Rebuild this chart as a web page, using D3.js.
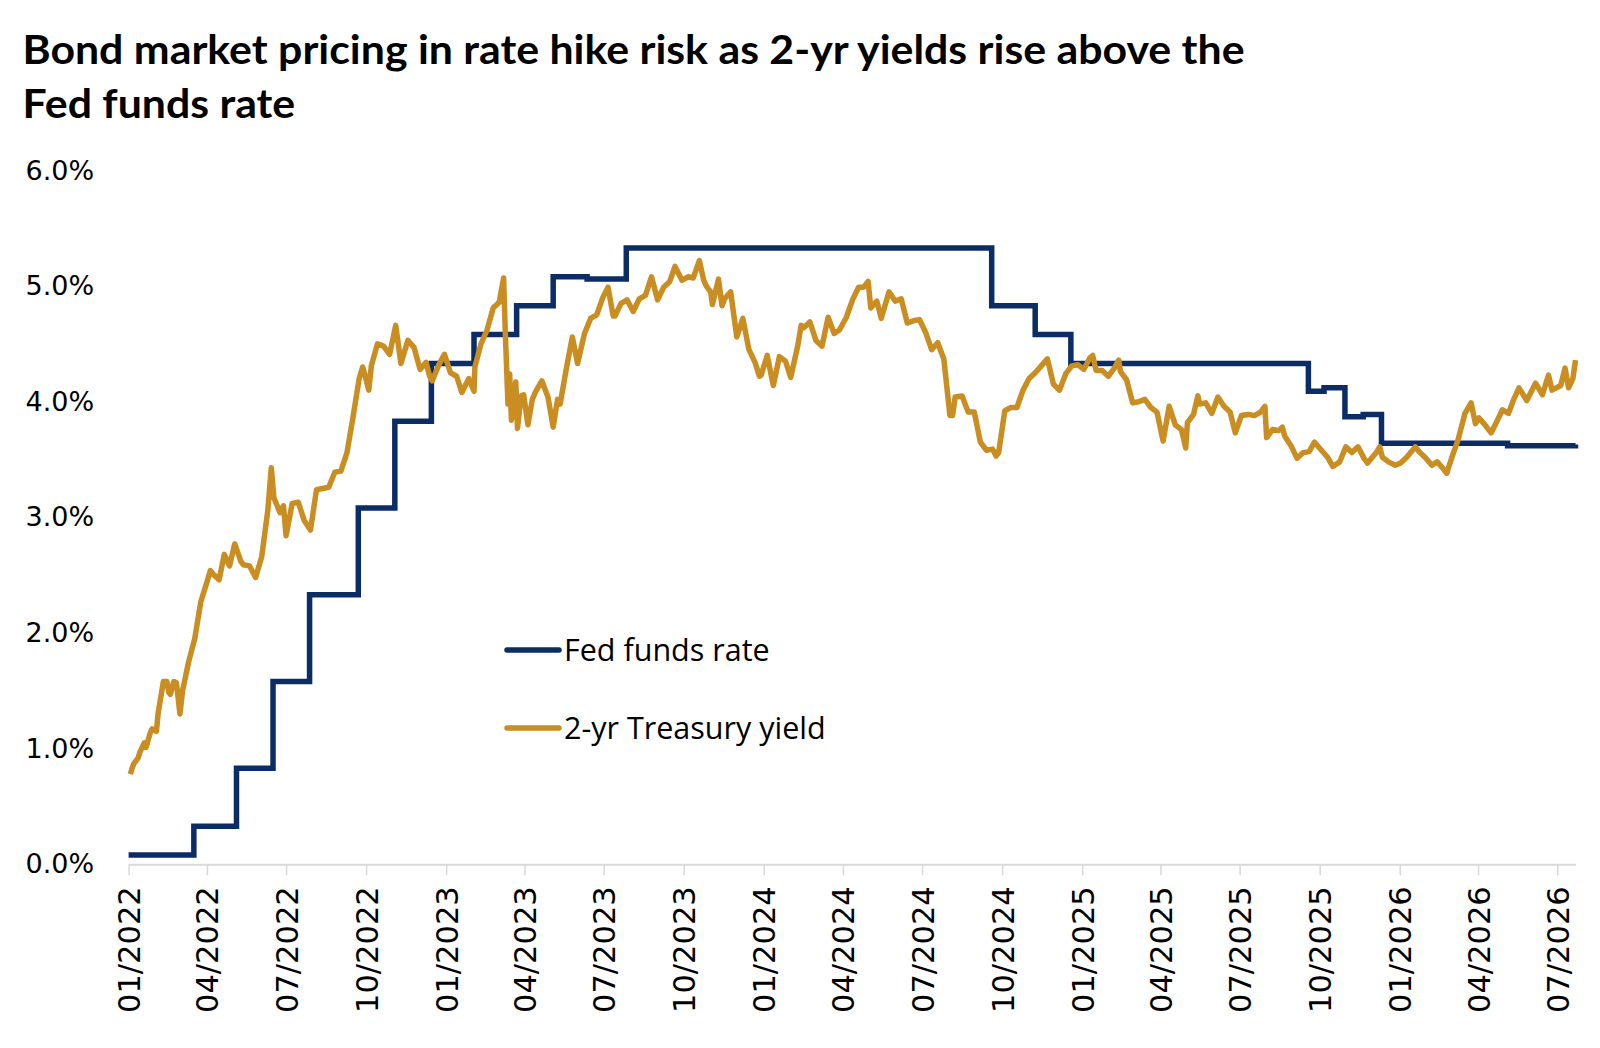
<!DOCTYPE html>
<html>
<head>
<meta charset="utf-8">
<script src="https://cdn.jsdelivr.net/npm/d3@7"></script>
<style>
  body { margin: 0; background: #ffffff; }
</style>
</head>
<body>
<div id="chart"></div>
<script>
// ---- data ----
var titleLines = ["Bond market pricing in rate hike risk as 2-yr yields rise above the", "Fed funds rate"];
var seriesNames = ["Fed funds rate", "2-yr Treasury yield"];
var yTicks = [0, 1, 2, 3, 4, 5, 6];
var xStart = "2022-01-01";
var xEnd = "2026-07-22";

// effective fed funds rate, value holds from each date until the next one
var fedDates = ["2022-01-01", "2022-03-17", "2022-05-05", "2022-06-16", "2022-07-28", "2022-09-22",
  "2022-11-03", "2022-12-15", "2023-02-02", "2023-03-23", "2023-05-04", "2023-06-12", "2023-07-27",
  "2024-09-19", "2024-11-08", "2024-12-19", "2025-09-18", "2025-10-06", "2025-10-30", "2025-11-20",
  "2025-12-11", "2026-05-05", "2026-07-22"];
var fedRates = [0.08, 0.33, 0.83, 1.58, 2.33, 3.08, 3.83, 4.33, 4.58, 4.83, 5.08, 5.06, 5.33,
  4.83, 4.58, 4.33, 4.09, 4.12, 3.87, 3.89, 3.64, 3.62, 3.63];

// 2-yr Treasury yield (%)
var yield2022 = [["2022-01-03",0.78],["2022-01-05",0.83],["2022-01-07",0.87],["2022-01-12",0.92],["2022-01-14",0.97],
  ["2022-01-19",1.05],["2022-01-21",1.01],["2022-01-26",1.14],["2022-01-28",1.17],["2022-02-02",1.15],["2022-02-04",1.31],
  ["2022-02-10",1.58],["2022-02-14",1.58],["2022-02-16",1.49],["2022-02-18",1.47],["2022-02-22",1.58],["2022-02-25",1.57],
  ["2022-03-01",1.30],["2022-03-04",1.50],["2022-03-11",1.75],["2022-03-18",1.95],["2022-03-25",2.27],["2022-04-01",2.44],
  ["2022-04-05",2.54],["2022-04-08",2.51],["2022-04-15",2.46],["2022-04-21",2.68],["2022-04-27",2.58],["2022-05-03",2.77],
  ["2022-05-10",2.62],["2022-05-13",2.59],["2022-05-20",2.58],["2022-05-27",2.48],["2022-06-03",2.66],["2022-06-10",3.06],
  ["2022-06-14",3.43],["2022-06-17",3.17],["2022-06-24",3.04],["2022-06-28",3.10],["2022-07-01",2.84],["2022-07-08",3.12],
  ["2022-07-15",3.13],["2022-07-22",2.97],["2022-07-29",2.89],["2022-08-05",3.24],["2022-08-12",3.25],["2022-08-19",3.26],
  ["2022-08-26",3.39],["2022-09-02",3.40],["2022-09-09",3.56],["2022-09-16",3.87],["2022-09-23",4.20],["2022-09-27",4.30],
  ["2022-09-30",4.22],["2022-10-04",4.10],["2022-10-07",4.31],["2022-10-14",4.50],["2022-10-21",4.48],["2022-10-28",4.41],
  ["2022-11-04",4.66],["2022-11-10",4.33],["2022-11-18",4.53],["2022-11-25",4.47],["2022-12-02",4.28],["2022-12-09",4.34],
  ["2022-12-13",4.22],["2022-12-16",4.18],["2022-12-23",4.31],["2022-12-30",4.41]];
var yield2023 = [["2023-01-06",4.25],["2023-01-13",4.22],["2023-01-19",4.08],["2023-01-27",4.20],["2023-02-02",4.09],
  ["2023-02-03",4.30],["2023-02-10",4.50],["2023-02-17",4.62],["2023-02-24",4.81],["2023-03-03",4.86],["2023-03-08",5.07],
  ["2023-03-10",4.59],["2023-03-13",3.98],["2023-03-15",4.24],["2023-03-17",3.84],["2023-03-22",4.17],["2023-03-24",3.77],
  ["2023-03-28",4.05],["2023-03-31",4.06],["2023-04-05",3.80],["2023-04-10",4.02],["2023-04-14",4.09],["2023-04-21",4.18],
  ["2023-04-28",4.04],["2023-05-04",3.78],["2023-05-09",4.02],["2023-05-12",3.98],["2023-05-19",4.28],["2023-05-26",4.56],
  ["2023-06-01",4.33],["2023-06-09",4.59],["2023-06-16",4.72],["2023-06-23",4.75],["2023-06-30",4.90],["2023-07-06",4.99],
  ["2023-07-12",4.74],["2023-07-14",4.74],["2023-07-21",4.85],["2023-07-28",4.88],["2023-08-04",4.78],["2023-08-11",4.89],
  ["2023-08-18",4.92],["2023-08-25",5.08],["2023-09-01",4.88],["2023-09-08",4.99],["2023-09-15",5.04],["2023-09-21",5.17],
  ["2023-09-29",5.05],["2023-10-06",5.08],["2023-10-12",5.07],["2023-10-19",5.22],["2023-10-24",5.05],["2023-10-27",5.00],
  ["2023-11-01",4.95],["2023-11-03",4.84],["2023-11-10",5.06],["2023-11-14",4.83],["2023-11-17",4.89],["2023-11-24",4.95],
  ["2023-12-01",4.56],["2023-12-08",4.72],["2023-12-15",4.45],["2023-12-22",4.34],["2023-12-27",4.22],["2023-12-29",4.23]];
var yield2024 = [["2024-01-05",4.40],["2024-01-12",4.14],["2024-01-19",4.39],["2024-01-26",4.35],["2024-02-01",4.21],
  ["2024-02-09",4.48],["2024-02-13",4.66],["2024-02-16",4.64],["2024-02-23",4.69],["2024-03-01",4.53],["2024-03-08",4.48],
  ["2024-03-15",4.73],["2024-03-22",4.59],["2024-03-28",4.62],["2024-04-05",4.73],["2024-04-12",4.88],["2024-04-19",4.99],
  ["2024-04-25",4.99],["2024-04-30",5.04],["2024-05-03",4.81],["2024-05-10",4.87],["2024-05-15",4.72],["2024-05-24",4.95],
  ["2024-05-31",4.87],["2024-06-07",4.89],["2024-06-14",4.68],["2024-06-21",4.70],["2024-06-28",4.71],["2024-07-05",4.60],
  ["2024-07-12",4.45],["2024-07-19",4.51],["2024-07-26",4.37],["2024-08-02",3.88],["2024-08-05",3.88],["2024-08-08",4.04],
  ["2024-08-16",4.05],["2024-08-23",3.91],["2024-08-30",3.91],["2024-09-06",3.65],["2024-09-13",3.58],["2024-09-20",3.59],
  ["2024-09-24",3.53],["2024-09-27",3.56],["2024-10-04",3.92],["2024-10-11",3.95],["2024-10-18",3.95],["2024-10-25",4.10],
  ["2024-11-01",4.20],["2024-11-08",4.25],["2024-11-15",4.31],["2024-11-22",4.37],["2024-11-29",4.15],["2024-12-06",4.10],
  ["2024-12-13",4.24],["2024-12-20",4.31],["2024-12-27",4.32]];
var yield2025 = [["2025-01-03",4.28],["2025-01-10",4.38],["2025-01-13",4.40],["2025-01-17",4.27],["2025-01-24",4.27],
  ["2025-01-31",4.22],["2025-02-07",4.29],["2025-02-12",4.36],["2025-02-14",4.26],["2025-02-21",4.19],["2025-02-28",3.99],
  ["2025-03-07",4.00],["2025-03-14",4.02],["2025-03-21",3.95],["2025-03-28",3.91],["2025-04-04",3.66],["2025-04-11",3.96],
  ["2025-04-18",3.80],["2025-04-25",3.76],["2025-04-30",3.60],["2025-05-02",3.82],["2025-05-09",3.89],["2025-05-14",4.05],
  ["2025-05-16",3.98],["2025-05-23",3.99],["2025-05-30",3.90],["2025-06-06",4.04],["2025-06-13",3.96],["2025-06-20",3.91],
  ["2025-06-26",3.73],["2025-07-03",3.88],["2025-07-11",3.89],["2025-07-18",3.88],["2025-07-25",3.91],["2025-07-30",3.96],
  ["2025-08-01",3.69],["2025-08-08",3.76],["2025-08-15",3.75],["2025-08-19",3.78],["2025-08-22",3.70],["2025-08-29",3.62],
  ["2025-09-05",3.51],["2025-09-12",3.56],["2025-09-19",3.57],["2025-09-25",3.65],["2025-10-03",3.58],["2025-10-10",3.52],
  ["2025-10-16",3.44],["2025-10-24",3.48],["2025-10-31",3.61],["2025-11-07",3.56],["2025-11-14",3.61],["2025-11-21",3.51],
  ["2025-11-25",3.47],["2025-12-05",3.56],["2025-12-09",3.61],["2025-12-12",3.52],["2025-12-19",3.48],["2025-12-27",3.45]];
var yield2026 = [["2026-01-02",3.47],["2026-01-09",3.52],["2026-01-19",3.61],["2026-01-23",3.57],["2026-01-30",3.52],
  ["2026-02-07",3.45],["2026-02-13",3.48],["2026-02-20",3.42],["2026-02-24",3.38],["2026-03-02",3.52],["2026-03-09",3.67],
  ["2026-03-17",3.90],["2026-03-24",3.99],["2026-03-29",3.81],["2026-04-02",3.86],["2026-04-09",3.80],["2026-04-16",3.73],
  ["2026-04-22",3.82],["2026-04-29",3.93],["2026-05-06",3.90],["2026-05-12",4.02],["2026-05-18",4.12],["2026-05-27",4.01],
  ["2026-06-06",4.16],["2026-06-14",4.06],["2026-06-21",4.23],["2026-06-25",4.10],["2026-07-05",4.14],["2026-07-10",4.29],
  ["2026-07-14",4.12],["2026-07-19",4.20],["2026-07-22",4.36]];

var navy = "#0c2c66";
var gold = "#c98d22";

// ---- layout ----
var svgWidth = 1600;
var svgHeight = 1048;
var chartMargin = { top: 170.4, right: 24.5, bottom: 183.7, left: 128.6 };
var width = svgWidth - chartMargin.left - chartMargin.right;
var height = svgHeight - chartMargin.top - chartMargin.bottom;

var svg = d3.select("#chart")
  .append("svg")
  .attr("width", svgWidth)
  .attr("height", svgHeight)
  .style("background", "#ffffff");

var parseDate = d3.timeParse("%Y-%m-%d");

// title
var titleGroup = svg.append("g");
var titleText = titleGroup.selectAll("text")
  .data(titleLines)
  .enter()
  .append("text")
  .attr("x", 22.5)
  .attr("y", (d, i) => 64 + i * 54)
  .attr("font-family", "Lato, 'Open Sans', sans-serif")
  .attr("font-weight", 700)
  .attr("font-size", 40)
  .attr("fill", "#000000")
  .text(d => d);

// squeeze title to the reference width
var firstLen = titleText.nodes()[0].getComputedTextLength();
var squeeze = 1222 / firstLen;
titleText.each(function() {
  var len = this.getComputedTextLength();
  d3.select(this).attr("textLength", len * squeeze).attr("lengthAdjust", "spacingAndGlyphs");
});

var chartGroup = svg.append("g")
  .attr("transform", `translate(${chartMargin.left}, ${chartMargin.top})`);

var xScale = d3.scaleTime()
  .domain([parseDate(xStart), parseDate(xEnd)])
  .range([0, width]);

var yScale = d3.scaleLinear()
  .domain([0, 6])
  .range([height, 0]);

// x axis
var bottomAxis = d3.axisBottom(xScale)
  .ticks(d3.timeMonth.every(3))
  .tickFormat(d3.timeFormat("%m/%Y"))
  .tickSizeInner(11)
  .tickSizeOuter(0);

var xAxis = chartGroup.append("g")
  .attr("transform", `translate(0, ${height})`)
  .call(bottomAxis);

xAxis.select(".domain").attr("stroke", "#d9d9d9").attr("stroke-width", 2);
xAxis.selectAll(".tick line").attr("stroke", "#d9d9d9").attr("stroke-width", 1.5);
xAxis.selectAll(".tick text")
  .attr("transform", "rotate(-90)")
  .attr("x", -22)
  .attr("y", 0)
  .attr("dy", "0.36em")
  .style("text-anchor", "end")
  .attr("font-family", "'DejaVu Sans', Verdana, sans-serif")
  .attr("font-size", 30.5)
  .attr("fill", "#000000");

// y axis, labels only
var leftAxis = d3.axisLeft(yScale)
  .tickValues(yTicks)
  .tickFormat(d => d.toFixed(1) + "%")
  .tickSize(0)
  .tickPadding(34.5);

var yAxis = chartGroup.append("g").call(leftAxis);
yAxis.select(".domain").remove();
yAxis.selectAll(".tick text")
  .attr("font-family", "'DejaVu Sans', Verdana, sans-serif")
  .attr("font-size", 27)
  .attr("fill", "#000000");

// lines
var fedData = fedDates.map((d, i) => ({ date: parseDate(d), value: fedRates[i] }));
var yieldData = [].concat(yield2022, yield2023, yield2024, yield2025, yield2026)
  .map(d => ({ date: parseDate(d[0]), value: d[1] }));

var fedLine = d3.line()
  .x(d => xScale(d.date))
  .y(d => yScale(d.value))
  .curve(d3.curveStepAfter);

var yieldLine = d3.line()
  .x(d => xScale(d.date))
  .y(d => yScale(d.value));

chartGroup.append("path")
  .datum(fedData)
  .attr("d", fedLine)
  .attr("fill", "none")
  .attr("stroke", navy)
  .attr("stroke-width", 5.5)
  .attr("stroke-linejoin", "miter");

chartGroup.append("path")
  .datum(yieldData)
  .attr("d", yieldLine)
  .attr("fill", "none")
  .attr("stroke", gold)
  .attr("stroke-width", 5.5)
  .attr("stroke-linejoin", "round");

// legend
var legendColors = [navy, gold];
var legendY = [650, 728];
var legend = svg.append("g");

legend.selectAll("line")
  .data(seriesNames)
  .enter()
  .append("line")
  .attr("x1", 507)
  .attr("x2", 559)
  .attr("y1", (d, i) => legendY[i])
  .attr("y2", (d, i) => legendY[i])
  .attr("stroke", (d, i) => legendColors[i])
  .attr("stroke-width", 5.5)
  .attr("stroke-linecap", "round");

legend.selectAll("text")
  .data(seriesNames)
  .enter()
  .append("text")
  .attr("x", 564)
  .attr("y", (d, i) => legendY[i] + 11)
  .attr("font-family", "'Open Sans', Lato, sans-serif")
  .attr("font-size", 30.5)
  .attr("fill", "#000000")
  .text(d => d);
</script>
</body>
</html>
